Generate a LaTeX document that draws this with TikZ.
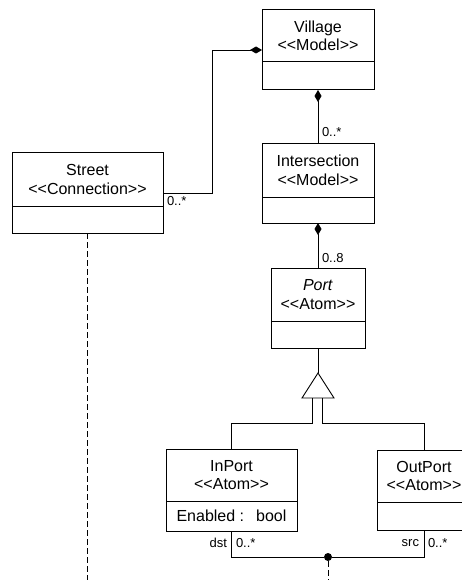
\documentclass[tikz,border=0pt]{standalone}
\usepackage{fontspec}
\setmainfont{Liberation Sans}[Ligatures=TeXOff]
\usetikzlibrary{arrows.meta}

% class box: name, x, y (top-left), width, height, title height, title, attributes
\newcommand\umlclass[8]{%
  \node[classbox, minimum width=#4pt, minimum height=#5pt] (#1) at (#2,#3) {};
  \draw[boxline] ([yshift=-#6pt]#1.north west) -- ([yshift=-#6pt]#1.north east);
  \node[classtext] at ([yshift={-#6/2*1pt}]#1.north) {#7};
  \node[classtext] at ([yshift={-(#5+#6)/2*1pt}]#1.north) {#8};
}

\begin{document}
\begin{tikzpicture}[x=1pt, y=-1pt,
  every node/.style={inner sep=0pt, outer sep=0pt},
  boxline/.style={line width=1pt},
  classbox/.style={draw, boxline, anchor=north west},
  classtext/.style={font=\fontsize{16}{18.5}\selectfont, align=center},
  mult/.style={font=\fontsize{13}{15}\selectfont},
  link/.style={line width=0.9pt},
  comp/.style={link, {Diamond[length=12pt, width=7pt]}-},
  dep/.style={link, dash pattern=on 6pt off 3pt},
  joint/.style={circle, fill, minimum size=8pt}]

\clip (0,0) rectangle (462,580);
\fill[white] (0,0) rectangle (462,580);

% classes
\umlclass{village}{262}{10}{112}{80}{52}{Village\\<<Model>>}{}
\umlclass{intersection}{262}{144}{112}{79}{53}{Intersection\\<<Model>>}{}
\umlclass{street}{12}{153}{151}{80}{53}{Street\\<<Connection>>}{}
\umlclass{port}{271}{268}{94}{80}{53}{\textit{Port}\\<<Atom>>}{}
\umlclass{inport}{166}{449}{131}{82}{52}{InPort\\<<Atom>>}{Enabled :\hspace{12pt}bool}
\umlclass{outport}{377}{450}{94}{80}{52}{OutPort\\<<Atom>>}{}

% compositions
\draw[comp] (village.west) -- ++(-50,0) |- (street.east);
\draw[comp] (village.south) -- (intersection.north);
\draw[comp] (intersection.south) -- (port.north);

\node[mult, anchor=north west] (m1) at (167,196) {0..*};
\node[mult, anchor=west] (m2) at (322,132) {0..*};
\node[mult, anchor=west] (m3) at (322,258) {0..8};

% generalization
\coordinate (apex) at (318,373);
\coordinate (gl) at (312,398);
\coordinate (gr) at (322,398);
\draw[link] (port.south) -- (apex);
\draw[link] (apex) -- (302,398) -- (334,398) -- cycle;
\draw[link] (gl) -- (312,423) -| (inport.north);
\draw[link] (gr) -- (322,423) -| (outport.north);

% src/dst association
\node[joint] (join) at (328,557) {};
\draw[link] (inport.south) |- (join);
\draw[link] (outport.south) |- (join);
\coordinate (joinend) at (328,585);
\draw[dep] (join) -- (joinend);

\node[mult, anchor=east] (dst) at (227,543) {dst};
\node[mult, anchor=west] (m4) at (236,543) {0..*};
\node[mult, anchor=east] (src) at (419,543) {src};
\node[mult, anchor=west] (m5) at (428,543) {0..*};

% dependency of the street
\coordinate (streetend) at (87.5,585);
\draw[dep] (street.south) -- (streetend);

\end{tikzpicture}
\end{document}
